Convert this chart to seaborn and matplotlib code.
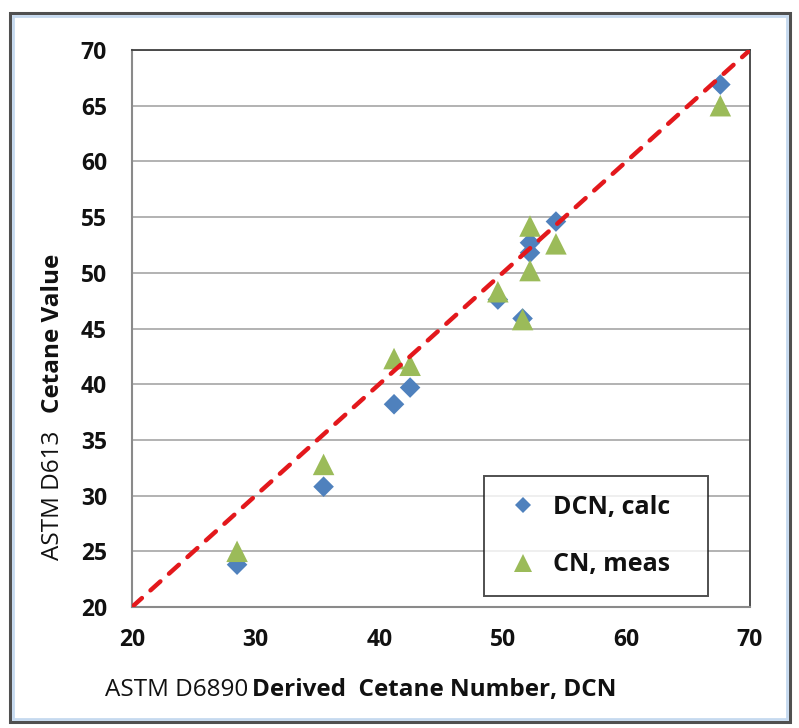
import matplotlib
matplotlib.use("Agg")
import matplotlib.pyplot as plt
import seaborn as sns
import pandas as pd
from matplotlib.patches import Rectangle
from matplotlib.lines import Line2D

# ---- data ----
dcn_x = [28.5, 35.5, 41.2, 42.5, 49.6, 51.6, 52.2, 52.2, 54.3, 67.6]
dcn_calc = [23.8, 30.8, 38.2, 39.7, 47.6, 45.9, 52.7, 51.8, 54.6, 66.9]
cn_meas = [25.0, 32.8, 42.3, 41.7, 48.3, 45.8, 54.2, 50.2, 52.6, 65.0]
line_x = [20, 70]
line_y = [20, 70]
x_ticks = [20, 30, 40, 50, 60, 70]
y_ticks = [20, 25, 30, 35, 40, 45, 50, 55, 60, 65, 70]
series_names = ["DCN, calc", "CN, meas"]

sns.set_style("white")
plt.rcParams["font.family"] = ["Open Sans", "DejaVu Sans"]

BLUE = "#4f81bd"
GREEN = "#9bbb59"
RED = "#e3181c"

fig = plt.figure(figsize=(7.99, 7.28), dpi=100)
ax = fig.add_axes([132 / 799, 1 - 607 / 728, (750 - 132) / 799, (607 - 50) / 728])

df = pd.DataFrame({"x": dcn_x, "dcn": dcn_calc, "cn": cn_meas})

sns.scatterplot(data=df, x="x", y="dcn", marker="D", s=110, color=BLUE,
                edgecolor="none", ax=ax, zorder=3, legend=False)
sns.scatterplot(data=df, x="x", y="cn", marker="^", s=240, color=GREEN,
                edgecolor="none", ax=ax, zorder=4, legend=False)
sns.lineplot(x=line_x, y=line_y, ax=ax, color=RED, lw=3.2,
             dashes=False, zorder=5)
ln = ax.lines[-1]
ln.set_dashes((3.0, 2.6))
ln.set_dash_capstyle("round")

ax.set_xlim(20, 70)
ax.set_ylim(20, 70)
ax.set_xticks(x_ticks)
ax.set_yticks(y_ticks)
ax.set_xlabel("")
ax.set_ylabel("")
ax.yaxis.grid(True, color="#a6a6a6", lw=1.2)
ax.xaxis.grid(False)
ax.set_axisbelow(True)

for side in ["top", "right"]:
    ax.spines[side].set_color("#404040")
    ax.spines[side].set_linewidth(1.3)
for side in ["left", "bottom"]:
    ax.spines[side].set_color("#8a8a8a")
    ax.spines[side].set_linewidth(1.5)

ax.tick_params(axis="both", which="major", direction="out", length=7,
               width=1.2, color="#8a8a8a", labelsize=16.5, labelcolor="#111111")
ax.tick_params(axis="y", pad=11)
ax.tick_params(axis="x", pad=8)
for lab in ax.get_xticklabels() + ax.get_yticklabels():
    lab.set_fontweight("bold")

# legend
handles = [
    Line2D([], [], marker="D", ls="none", color=BLUE, markersize=8.5, markeredgewidth=0),
    Line2D([], [], marker="^", ls="none", color=GREEN, markersize=13, markeredgewidth=0),
]
leg = ax.legend(handles, series_names, loc="lower left",
                bbox_to_anchor=((484 - 132) / 618, (607 - 596) / 557, (708 - 484) / 618, (596 - 474) / 557),
                mode="expand", frameon=True, fancybox=False, borderpad=0.75,
                borderaxespad=0, labelspacing=1.3, handletextpad=0.4, handlelength=1.6,
                prop={"weight": "bold", "size": 18})
leg.get_frame().set_edgecolor("#222222")
leg.get_frame().set_linewidth(1.4)
for t in leg.get_texts():
    t.set_color("#111111")

# axis labels (mixed weights)
fig.text(105 / 799, 1 - 690 / 728, "ASTM D6890", ha="left", va="center",
         fontsize=17.5, color="#111111")
fig.text(252 / 799, 1 - 690 / 728, "Derived  Cetane Number, DCN", ha="left", va="center",
         fontsize=17.5, fontweight="bold", color="#111111")
fig.text(53 / 799, 1 - 560 / 728, "ASTM D613", ha="center", va="bottom",
         rotation=90, fontsize=17.5, color="#111111")
fig.text(53 / 799, 1 - 413 / 728, "Cetane Value", ha="center", va="bottom",
         rotation=90, fontsize=17.5, fontweight="bold", color="#111111")

# figure frame
fig.patches.append(Rectangle((10 / 799, 1 - 722 / 728), 780 / 799, 709 / 728,
                             transform=fig.transFigure, fill=False,
                             edgecolor="#505050", lw=2.2))
fig.patches.append(Rectangle((13 / 799, 1 - 719 / 728), 774 / 799, 703 / 728,
                             transform=fig.transFigure, fill=False,
                             edgecolor="#c5d9ef", lw=2.0))

fig.savefig("out.png", dpi=100)
